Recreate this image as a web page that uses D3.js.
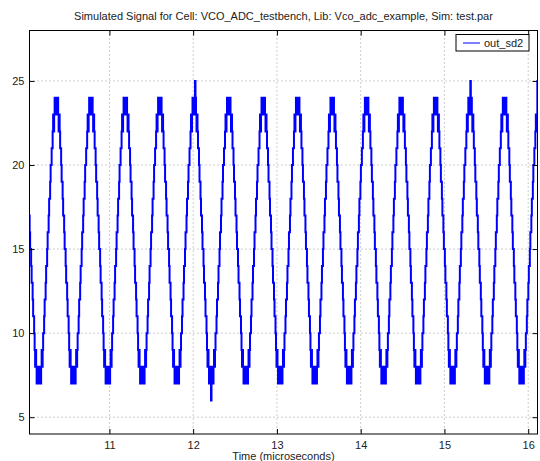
<!DOCTYPE html>
<html>
<head>
<meta charset="utf-8">
<script src="https://cdn.jsdelivr.net/npm/d3@7"></script>
<style>
  body { margin: 0; background: #fff; }
  svg { display: block; font-family: "Liberation Sans", Arial, Helvetica, sans-serif; }
  .grid line { stroke: #9a9a9a; stroke-dasharray: 1,3; }
  .axis text { font-size: 11px; fill: #222; }
  .axis line { stroke: #000; }
  .axis path { display: none; }
</style>
</head>
<body>
<svg id="chart" width="540" height="461"></svg>
<script>
// peak centre of every cycle in microseconds (first one sits just left of the plot)
var peakTimes = [9.958, 10.370, 10.782, 11.193, 11.605, 12.016, 12.428, 12.840,
                 13.251, 13.663, 14.074, 14.486, 14.898, 15.309, 15.721];

var fallLevels = [24, 23, 24, 23, 22, 23, 22,
                  21, 21, 20, 19, 19, 18, 17, 17, 16, 15, 15, 14, 13, 13, 12, 11, 11, 10, 9,
                  8, 9, 8, 7, 8, 7, 8];
var riseLevels = [7, 8, 7, 8, 7, 8, 9, 8,
                  9, 10, 10, 11, 12, 12, 13, 14, 14, 15, 16, 16, 17, 18, 18, 19, 20, 20, 21, 21,
                  22, 23, 22, 23, 24, 23, 24, 23];

// single samples that jump one code outside the normal range
var spikeTimes = [12.017, 12.211, 15.309, 16.108];
var spikeValues = [25, 6, 25, 25];

var xTicks = [11, 12, 13, 14, 15, 16];
var yTicks = [5, 10, 15, 20, 25];
var xDomain = [10.046, 16.111];
var yDomain = [4, 28];

var margin = {left: 29.5, right: 2.5, top: 30.5, bottom: 27};
var svg = d3.select("#chart");
var width = +svg.attr("width");
var height = +svg.attr("height");
var plotW = width - margin.left - margin.right;
var plotH = height - margin.top - margin.bottom;

var x = d3.scaleLinear().domain(xDomain).range([0, plotW]);
var y = d3.scaleLinear().domain(yDomain).range([plotH, 0]);

// build the sample list, one template cycle per peak
var cycle = fallLevels.concat(riseLevels);
var samples = [];
peakTimes.forEach(function(p, i) {
    var next = i < peakTimes.length - 1 ? peakTimes[i + 1] : p + (p - peakTimes[i - 1]);
    var dt = (next - p) / cycle.length;
    cycle.forEach(function(v, j) {
        samples.push({t: p + j * dt, v: v});
    });
});
samples.push({t: xDomain[1] + 0.05, v: samples[samples.length - 1].v});

var bis = d3.bisector(function(d) { return d.t; }).left;
spikeTimes.forEach(function(t, i) {
    samples[bis(samples, t)].v = spikeValues[i];
});

var g = svg.append("g")
    .attr("transform", "translate(" + margin.left + "," + margin.top + ")");

g.append("defs").append("clipPath").attr("id", "clip")
  .append("rect").attr("width", plotW).attr("height", plotH);

// grid
var grid = g.append("g").attr("class", "grid");
grid.selectAll(".gx").data(xTicks).enter().append("line")
    .attr("x1", function(d) { return x(d); }).attr("x2", function(d) { return x(d); })
    .attr("y1", 0).attr("y2", plotH);
grid.selectAll(".gy").data(yTicks).enter().append("line")
    .attr("y1", function(d) { return y(d); }).attr("y2", function(d) { return y(d); })
    .attr("x1", 0).attr("x2", plotW);

// signal
var line = d3.line()
    .x(function(d) { return x(d.t); })
    .y(function(d) { return y(d.v); })
    .curve(d3.curveStepAfter);

g.append("path")
    .datum(samples)
    .attr("clip-path", "url(#clip)")
    .attr("fill", "none")
    .attr("stroke", "#0000ff")
    .attr("stroke-width", 2)
    .attr("d", line);

// axes, ticks pointing inward on all four sides
var fmt = d3.format("d");
g.append("g").attr("class", "axis")
    .attr("transform", "translate(0," + plotH + ")")
    .call(d3.axisBottom(x).tickValues(xTicks).tickFormat(fmt).tickSize(-5).tickPadding(7));
g.append("g").attr("class", "axis")
    .call(d3.axisTop(x).tickValues(xTicks).tickSize(-5).tickFormat(""));
g.append("g").attr("class", "axis")
    .call(d3.axisLeft(y).tickValues(yTicks).tickFormat(fmt).tickSize(-5).tickPadding(5));
g.append("g").attr("class", "axis")
    .attr("transform", "translate(" + plotW + ",0)")
    .call(d3.axisRight(y).tickValues(yTicks).tickSize(-5).tickFormat(""));

g.append("rect")
    .attr("width", plotW).attr("height", plotH)
    .attr("fill", "none").attr("stroke", "#000").attr("stroke-width", 1);

// legend
var leg = g.append("g").attr("transform", "translate(" + (456 - margin.left) + "," + (34.5 - margin.top) + ")");
leg.append("rect").attr("width", 73).attr("height", 16.5)
    .attr("fill", "#fff").attr("stroke", "#000").attr("stroke-width", 1);
leg.append("line").attr("x1", 7).attr("x2", 24).attr("y1", 8.5).attr("y2", 8.5)
    .attr("stroke", "#0000ff").attr("stroke-width", 1);
leg.append("text").attr("x", 28).attr("y", 12.5)
    .style("font-size", "11px").attr("fill", "#222").text("out_sd2");

// title and x label
svg.append("text")
    .attr("x", margin.left + plotW / 2).attr("y", 20)
    .attr("text-anchor", "middle").style("font-size", "11px").attr("fill", "#222")
    .text("Simulated Signal for Cell: VCO_ADC_testbench, Lib: Vco_adc_example, Sim: test.par");
svg.append("text")
    .attr("x", margin.left + plotW / 2).attr("y", 460)
    .attr("text-anchor", "middle").style("font-size", "11px").attr("fill", "#222")
    .text("Time (microseconds)");
</script>
</body>
</html>
